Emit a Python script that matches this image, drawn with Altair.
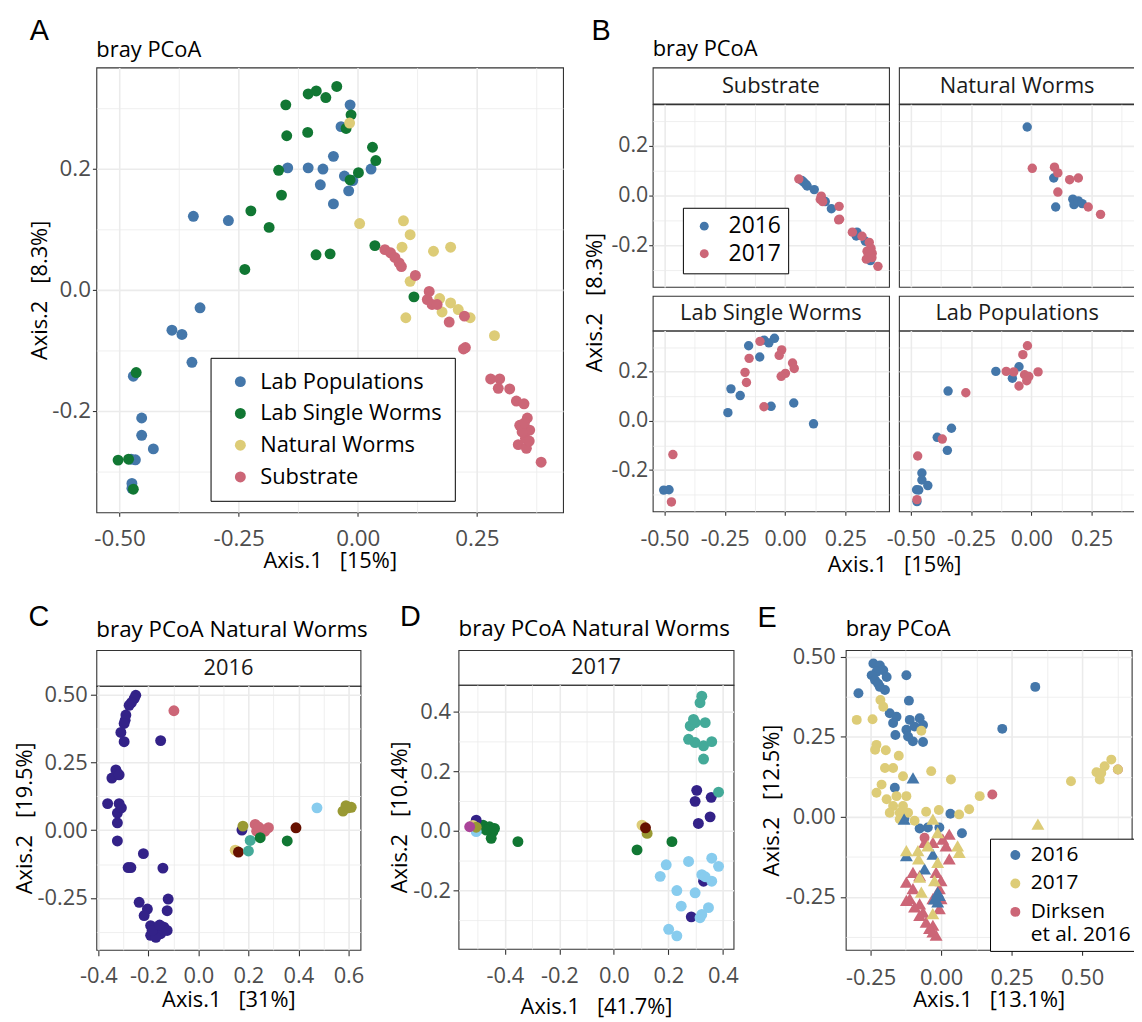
import altair as alt
import pandas as pd

FONT = "Open Sans"
LETTER_FONT = "Liberation Sans"
BORDER = "#333333"
GRID = "#EBEBEB"
TICK_TEXT = "#4D4D4D"
NB = "\u00a0"

# ---------------- Panels A and B: four sample groups, two years ----------------
GROUPS = ["Lab Populations", "Lab Single Worms", "Natural Worms", "Substrate"]
GROUP_COLORS = ["#4477AA", "#117733", "#DDCC77", "#CC6677"]
YEARS = ["2016", "2017"]
YEAR_COLORS = ["#4477AA", "#CC6677"]

lab_pop_x = [-0.345, -0.2715, -0.147, -0.104, -0.073, -0.0785, -0.331, -0.390, -0.369, -0.348,
             -0.471, -0.4535, -0.4535, -0.429, -0.4756, -0.4667, -0.474, -0.474, -0.016, -0.035,
             -0.051, -0.028, -0.0104, -0.019, -0.051, 0.028]
lab_pop_y = [0.121, 0.114, 0.201, 0.201, 0.199, 0.173, -0.030, -0.067, -0.074, -0.120,
             -0.143, -0.212, -0.2405, -0.263, -0.280, -0.281, -0.320, -0.328, 0.305, 0.269,
             0.220, 0.1874, 0.180, 0.163, 0.1415, 0.199]
lab_pop_year = [2016, 2017, 2016, 2017, 2017, 2016, 2016, 2016, 2017, 2016,
                2017, 2016, 2016, 2016, 2016, 2016, 2017, 2016, 2017, 2017,
                2016, 2017, 2017, 2017, 2017, 2017]

lab_single_x = [-0.151, -0.104, -0.087, -0.067, -0.044, -0.149, -0.105, -0.166, -0.160, -0.2243,
                -0.186, -0.237, -0.0875, -0.058, -0.465, -0.503, -0.481, -0.471, -0.014, -0.0244,
                0.031, 0.038, 0.0015, -0.016, 0.036, 0.118]
lab_single_y = [0.305, 0.323, 0.328, 0.317, 0.3354, 0.254, 0.2595, 0.197, 0.156, 0.130,
                0.1027, 0.0333, 0.0574, 0.059, -0.137, -0.2815, -0.280, -0.3295, 0.2885, 0.266,
                0.235, 0.213, 0.193, 0.181, 0.0726, -0.012]
lab_single_year = [2016, 2017, 2016, 2016, 2016, 2017, 2016, 2017, 2017, 2016,
                   2016, 2016, 2017, 2016, 2017, 2016, 2016, 2017, 2017, 2017,
                   2017, 2017, 2017, 2017, 2016, 2016]

natural_x = [-0.017, 0.004, 0.096, 0.11, 0.093, 0.159, 0.195, 0.11, 0.101, 0.172,
             0.177, 0.195, 0.211, 0.236, 0.287]
natural_y = [0.275, 0.109, 0.1136, 0.0906, 0.070, 0.0633, 0.070, 0.0136, -0.0465, -0.0148,
             -0.037, -0.022, -0.033, -0.0465, -0.076]
natural_year = [2016, 2017, 2017, 2017, 2016, 2017, 2017, 2017, 2016, 2016,
                2016, 2016, 2016, 2017, 2017]

substrate_x = [0.057, 0.069, 0.078, 0.087, 0.0917, 0.121, 0.150, 0.146, 0.156, 0.1667,
               0.192, 0.224, 0.222, 0.226, 0.279, 0.298, 0.295, 0.319, 0.333, 0.349,
               0.356, 0.340, 0.361, 0.352, 0.337, 0.354, 0.385, 0.345, 0.360, 0.350]
substrate_y = [0.066, 0.0607, 0.053, 0.044, 0.038, 0.0234, -0.003, -0.0164, -0.0246, -0.0246,
               -0.0536, -0.0438, -0.098, -0.0957, -0.1475, -0.1475, -0.163, -0.164, -0.184, -0.1885,
               -0.212, -0.224, -0.232, -0.246, -0.256, -0.262, -0.285, -0.235, -0.250, -0.220]
substrate_year = [2017, 2016, 2016, 2016, 2016, 2016, 2017, 2017, 2017, 2016,
                  2016, 2017, 2017, 2017, 2017, 2016, 2016, 2017, 2016, 2017,
                  2017, 2017, 2017, 2017, 2017, 2016, 2017, 2017, 2017, 2017]

# ---------------- Panels C and D: natural worms coloured by sample cluster ----------------
CLUSTERS = ["cluster 1", "cluster 2", "cluster 3", "cluster 4", "cluster 5",
            "cluster 6", "cluster 7", "cluster 8", "cluster 9"]
CLUSTER_COLORS = ["#332288", "#CC6677", "#999933", "#88CCEE", "#44AA99",
                  "#117733", "#661100", "#DDCC77", "#AA4499"]

c_x = [-0.2505, -0.257, -0.268, -0.277, -0.290, -0.293, -0.297, -0.310, -0.297, -0.151,
       -0.330, -0.324, -0.346, -0.317, -0.363, -0.317, -0.324, -0.308, -0.324, -0.324,
       -0.220, -0.270, -0.281, -0.142, -0.237, -0.121, -0.204, -0.217, -0.125, -0.191,
       -0.164, -0.138, -0.178, -0.151, -0.191, -0.125, -0.170, -0.185, -0.155, 0.174,
       -0.098, 0.227, 0.253, 0.280, 0.233, 0.266, 0.240,
       0.147,
       0.178, 0.598, 0.578, 0.611, 0.590,
       0.160, 0.390,
       0.207, 0.200,
       0.247, 0.355,
       0.474]
c_y = [0.497, 0.485, 0.470, 0.460, 0.424, 0.405, 0.393, 0.360, 0.326, 0.330,
       0.222, 0.210, 0.192, 0.204, 0.0977, 0.0977, 0.063, 0.082, 0.027, -0.040,
       -0.0867, -0.138, -0.138, -0.140, -0.266, -0.254, -0.291, -0.315, -0.297, -0.352,
       -0.364, -0.358, -0.376, -0.382, -0.388, -0.370, -0.395, -0.370, -0.350, 0.0,
       0.440, 0.021, 0.002, 0.009, -0.004, -0.004, 0.012,
       -0.074,
       0.0147, 0.082, 0.070, 0.084, 0.090,
       -0.081, 0.0085,
       -0.038, -0.077,
       -0.028, -0.040,
       0.082]
c_cluster = (["cluster 1"] * 40 + ["cluster 2"] * 7 + ["cluster 8"] + ["cluster 3"] * 5
             + ["cluster 7"] * 2 + ["cluster 5"] * 2 + ["cluster 6"] * 2 + ["cluster 4"])

d_x = [-0.505, -0.480, -0.456, -0.444, -0.450, -0.468, -0.493, -0.438, -0.352, 0.085, 0.213,
       -0.505, 0.304, 0.298, 0.357, 0.310, 0.353, 0.329, 0.284,
       -0.505, 0.192, 0.170, 0.274, 0.359, 0.384, 0.3225, 0.359, 0.231, 0.298, 0.247, 0.316,
       0.347, 0.201, 0.231, 0.3225, 0.335,
       0.3225, 0.316, 0.298, 0.335, 0.280, 0.298, 0.329, 0.359, 0.329, 0.384, 0.292, 0.274,
       -0.517, 0.103,
       -0.505, 0.122,
       0.116,
       -0.529]
d_y = [0.0245, 0.019, 0.0134, -0.0033, -0.0256, 0.0022, 0.0078, 0.0078, -0.0367, -0.0645, -0.0367,
       0.0356, 0.136, 0.099, 0.1124, 0.0245, 0.0467, -0.170, -0.290,
       -0.003, -0.1146, -0.1536, -0.1035, -0.0924, -0.120, -0.148, -0.170, -0.2015, -0.209, -0.254, -0.293,
       -0.259, -0.332, -0.354, -0.282, -0.155,
       0.453, 0.431, 0.364, 0.364, 0.353, 0.297, 0.286, 0.300, 0.2415, 0.130, 0.375, 0.308,
       0.018, 0.019,
       0.012, -0.009,
       0.010,
       0.0134]
d_cluster = (["cluster 6"] * 11 + ["cluster 1"] * 8 + ["cluster 4"] * 17 + ["cluster 5"] * 12
             + ["cluster 8"] * 2 + ["cluster 3"] * 2 + ["cluster 7"] + ["cluster 9"])

# ---------------- Panel E: 2016, 2017 and Dirksen et al. 2016 ----------------
SOURCES = ["2016", "2017", "Dirksen et al. 2016"]
SOURCE_COLORS = ["#4477AA", "#DDCC77", "#CC6677"]

e16_circ_x = [-0.240, -0.217, -0.2286, -0.246, -0.205, -0.193, -0.234, -0.217, -0.199, -0.223,
              -0.293, -0.123, -0.114, -0.182, -0.158, -0.170, -0.111, -0.076, -0.094, -0.064,
              -0.123, -0.162, -0.117, -0.100, -0.064, -0.164, 0.334, 0.217, 0.033, 0.074,
              -0.076, -0.047, -0.006, -0.130]
e16_circ_y = [0.479, 0.473, 0.453, 0.442, 0.458, 0.437, 0.427, 0.406, 0.396, 0.416,
              0.386, 0.4425, 0.363, 0.3236, 0.313, 0.293, 0.303, 0.308, 0.282, 0.287,
              0.272, 0.256, 0.251, 0.236, 0.234, 0.091, 0.406, 0.275, 0.010, -0.051,
              -0.036, -0.033, -0.033, -0.005]
e16_tri_x = [-0.0996, -0.006, -0.0234, -0.0586, -0.029, -0.123, -0.131, -0.012, -0.012]
e16_tri_y = [0.122, -0.245, -0.2554, -0.162, -0.116, -0.121, -0.007, -0.265, -0.235]

e17_circ_x = [-0.299, -0.243, -0.205, -0.215, -0.070, -0.229, -0.234, -0.196, -0.150, -0.199,
              -0.170, -0.135, -0.035, 0.035, -0.211, -0.229, -0.193, -0.170, -0.1465, -0.123,
              -0.182, -0.1465, -0.135, -0.158, -0.117, -0.094, -0.053, -0.008, 0.064, 0.0996,
              0.137, 0.4606, 0.551, 0.5626, 0.580, 0.6036, 0.568, 0.627]
e17_circ_y = [0.303, 0.305, 0.344, 0.365, 0.269, 0.225, 0.210, 0.208, 0.191, 0.153,
              0.153, 0.127, 0.143, 0.117, 0.101, 0.0755, 0.055, 0.034, 0.013, 0.065,
              0.013, -0.007, 0.034, 0.065, 0.013, -0.012, 0.0165, 0.0217, 0.008, 0.0238,
              0.065, 0.1117, 0.1396, 0.1168, 0.158, 0.179, 0.1375, 0.148]
e17_tri_x = [-0.029, -0.012, -0.123, -0.082, -0.047, -0.012, 0.0586, 0.0645, -0.080, -0.076,
             -0.0234, -0.070, -0.0293, 0.3434]
e17_tri_y = [-0.007, -0.0486, -0.105, -0.105, -0.090, -0.1416, -0.090, -0.1106, -0.131, -0.188,
             -0.1985, -0.2347, -0.302, -0.0227]

dirk_circ_x = [0.1817, 0.627, -0.0586]
dirk_circ_y = [0.0703, 0.148, -0.065]
dirk_tri_x = [-0.123, -0.0996, -0.111, -0.076, -0.029, -0.006, -0.029, -0.053, -0.0176, -0.029,
              -0.123, -0.094, -0.064, -0.006, 0.029, 0.0176, 0.006, 0.029, -0.0586, -0.029,
              -0.076, -0.041, -0.0996, -0.076, -0.0176, 0.0, 0.0]
dirk_tri_y = [-0.2037, -0.224, -0.255, -0.271, -0.255, -0.224, -0.338, -0.328, -0.369, -0.359,
              -0.2605, -0.281, -0.297, -0.2864, -0.131, -0.090, -0.069, -0.054, -0.0796, -0.0796,
              -0.307, -0.348, -0.1727, -0.183, -0.1727, -0.1985, -0.255]

# ---------------- tables ----------------
def frame(xs, ys, **cols):
    d = pd.DataFrame({"x": xs, "y": ys})
    for k, v in cols.items():
        d[k] = v
    return d

df_ab = pd.concat([
    frame(lab_pop_x, lab_pop_y, group="Lab Populations", year=[str(v) for v in lab_pop_year]),
    frame(lab_single_x, lab_single_y, group="Lab Single Worms", year=[str(v) for v in lab_single_year]),
    frame(natural_x, natural_y, group="Natural Worms", year=[str(v) for v in natural_year]),
    frame(substrate_x, substrate_y, group="Substrate", year=[str(v) for v in substrate_year]),
], ignore_index=True)
df_c = frame(c_x, c_y, cluster=c_cluster)
df_d = frame(d_x, d_y, cluster=d_cluster)
df_e_circ = pd.concat([
    frame(dirk_circ_x, dirk_circ_y, source="Dirksen et al. 2016"),
    frame(e16_circ_x, e16_circ_y, source="2016"),
    frame(e17_circ_x, e17_circ_y, source="2017"),
], ignore_index=True)
df_e_tri = pd.concat([
    frame(dirk_tri_x, dirk_tri_y, source="Dirksen et al. 2016"),
    frame(e16_tri_x, e16_tri_y, source="2016"),
    frame(e17_tri_x, e17_tri_y, source="2017"),
], ignore_index=True)

XD_AB = [-0.5486, 0.431]
YD_AB = [-0.3677, 0.3667]


# ---------------- helpers ----------------
def major_test(vals):
    return " || ".join(f"abs(datum.value - ({v})) < 0.000001" for v in vals)


def axis(major, minor, fmt, show=True, title=None, font_size=22, tick=4, lab_pad=3,
         title_pad=0, extra=None):
    test = major_test(major)
    kw = dict(values=sorted(major + minor), grid=True, gridColor=GRID,
              gridWidth={"condition": {"test": test, "value": 1.6}, "value": 0.8},
              domain=False, labelOverlap=False, labelFlush=False,
              labelFont=FONT, labelFontSize=font_size, labelColor=TICK_TEXT,
              tickColor=BORDER, tickWidth=1.1, tickSize=tick, labelPadding=lab_pad,
              titleFont=FONT, titleFontSize=22, titleFontWeight="normal", titleColor="black",
              titlePadding=title_pad, title=title)
    if show:
        kw["labelExpr"] = f"({test}) ? replace(format(datum.value, '{fmt}'), '\u2212', '-') : ''"
        kw["tickOpacity"] = {"condition": {"test": test, "value": 1}, "value": 0}
    else:
        kw["labels"] = False
        kw["ticks"] = False
    if extra:
        kw.update(extra)
    return alt.Axis(**kw)


def points(df, xdom, ydom, xax, yax, color, size, shape="circle"):
    return alt.Chart(df).mark_point(filled=True, size=size, opacity=1, shape=shape,
                                    strokeWidth=0).encode(
        x=alt.X("x:Q", scale=alt.Scale(domain=xdom, nice=False, zero=False), axis=xax),
        y=alt.Y("y:Q", scale=alt.Scale(domain=ydom, nice=False, zero=False), axis=yax),
        color=color,
    )


def ptitle(text, offset, size=22):
    return alt.Title(text, anchor="start", frame="group", font=FONT, fontSize=size,
                     fontWeight="normal", color="black", baseline="alphabetic", offset=offset)


def ltitle(letter, dx, offset):
    return alt.Title(letter, anchor="start", frame="group", font=LETTER_FONT, fontSize=29,
                     fontWeight="normal", color="black", baseline="alphabetic",
                     offset=offset, dx=dx)


def strip(label, w, h):
    d = pd.DataFrame({"label": [label]})
    return alt.Chart(d).mark_text(font=FONT, fontSize=22, color="#1A1A1A").encode(
        x=alt.X("label:N", axis=None),
        y=alt.Y("label:N", axis=None),
        text="label:N",
    ).properties(width=w, height=h)


def spacer(w, h):
    d = pd.DataFrame({"v": [0]})
    return alt.Chart(d).mark_point(opacity=0).encode(
        x=alt.X("v:Q", axis=None), y=alt.Y("v:Q", axis=None)
    ).properties(width=w, height=h, view=alt.ViewBackground(stroke="transparent"))


def ind(c):
    return c.resolve_scale(color="independent").resolve_legend(color="independent")


# ---------------- Panel A ----------------
AX_MAJ = [-0.5, -0.25, 0.0, 0.25]
AX_MIN = [-0.375, -0.125, 0.125, 0.375]
AY_MAJ = [-0.2, 0.0, 0.2]
AY_MIN = [-0.3, -0.1, 0.1, 0.3]

legA = alt.Legend(title=None, orient="none", legendX=115, legendY=292.4, fillColor="white",
                  strokeColor="black", padding=13, symbolOffset=6, labelOffset=9, rowPadding=10,
                  labelFont=FONT, labelFontSize=22, labelColor="black", labelLimit=400,
                  symbolType="circle", symbolSize=121, symbolStrokeWidth=0)
chartA = points(
    df_ab, XD_AB, YD_AB,
    axis(AX_MAJ, AX_MIN, ".2f", title=f"Axis.1{NB*3}[15%]", font_size=22.5, tick=4,
         lab_pad=11.8, title_pad=0),
    axis(AY_MAJ, AY_MIN, ".1f", title=f"Axis.2{NB*3}[8.3%]", font_size=22.5, tick=4,
         lab_pad=2, title_pad=0),
    alt.Color("group:N", scale=alt.Scale(domain=GROUPS, range=GROUP_COLORS), legend=legA),
    121,
).properties(width=470, height=448, title=ptitle("bray PCoA", -11.25))
A_wrap = ind(alt.vconcat(chartA, title=ltitle("A", -67, -30.7)))

# ---------------- Panel B ----------------
BW = 238
df_b = df_ab.sort_values("year", kind="stable")
legB = alt.Legend(title=None, orient="none", legendX=30.4, legendY=104.3, fillColor="white",
                  strokeColor="black", padding=7, symbolOffset=3, labelOffset=13, rowPadding=3.7,
                  labelFont=FONT, labelFontSize=23, labelColor="black", labelLimit=300,
                  symbolType="circle", symbolSize=81, symbolStrokeWidth=0)


def b_plot(group, xshow, yshow, h, xtitle=None, ytitle=None, legend=None, xextra=None,
           yextra=None):
    col = alt.Color("year:N", scale=alt.Scale(domain=YEARS, range=YEAR_COLORS),
                    legend=legend)
    return points(
        df_b[df_b["group"] == group], XD_AB, YD_AB,
        axis(AX_MAJ, AX_MIN, ".2f", show=xshow, title=xtitle, font_size=21.5, tick=4,
             lab_pad=13.2, title_pad=4.6, extra=xextra),
        axis(AY_MAJ, AY_MIN, ".1f", show=yshow, title=ytitle, font_size=21.5, tick=4,
             lab_pad=1, title_pad=4, extra=yextra),
        col, 90,
    ).properties(width=BW, height=h)


b_sub = b_plot("Substrate", False, True, 184, ytitle=f"Axis.2{NB*3}[8.3%]", legend=legB,
               yextra={"titleY": 199.3})
b_nat = b_plot("Natural Worms", False, False, 184)
b_lsw = b_plot("Lab Single Worms", True, True, 182, xtitle=f"Axis.1{NB*3}[15%]",
               xextra={"titleX": 243})
b_lp = b_plot("Lab Populations", True, False, 182)

B_grid = ind(alt.concat(
    strip("Substrate", BW, 36.4), strip("Natural Worms", BW, 36.4),
    b_sub, b_nat,
    spacer(BW, 9), spacer(BW, 9),
    strip("Lab Single Worms", BW, 35), strip("Lab Populations", BW, 35),
    b_lsw, b_lp,
    columns=2, spacing={"row": 0, "column": 10}, bounds="flush", align="each",
    title=ptitle("bray PCoA", -11.25),
))
B_wrap = ind(alt.vconcat(B_grid, title=ltitle("B", -61.6, -30.7)))

# ---------------- Panel C ----------------
colC = alt.Color("cluster:N", scale=alt.Scale(domain=CLUSTERS, range=CLUSTER_COLORS),
                 legend=None)
chartC = points(
    df_c, [-0.408, 0.648], [-0.4416, 0.532],
    axis([-0.4, -0.2, 0.0, 0.2, 0.4, 0.6], [-0.3, -0.1, 0.1, 0.3, 0.5], ".1f",
         title=f"Axis.1{NB*3}[31%]", tick=6, lab_pad=9.7, title_pad=3.3),
    axis([-0.25, 0.0, 0.25, 0.5], [-0.375, -0.125, 0.125, 0.375], ".2f",
         title=f"Axis.2{NB*3}[19.5%]", tick=6, lab_pad=3.3, title_pad=0),
    colC, 121,
).properties(width=266, height=266)
C_cell = alt.vconcat(strip("2016", 266, 36), chartC, spacing=0, bounds="flush",
                     title=ptitle("bray PCoA Natural Worms", -9.75, 22.5))
C_wrap = ind(alt.vconcat(ind(C_cell), title=ltitle("C", -68.4, -36)))

# ---------------- Panel D ----------------
chartD = points(
    df_d, [-0.570, 0.439], [-0.398, 0.4915],
    axis([-0.4, -0.2, 0.0, 0.2, 0.4], [-0.5, -0.3, -0.1, 0.1, 0.3], ".1f",
         title=f"Axis.1{NB*3}[41.7%]", tick=5.5, lab_pad=11.2, title_pad=10),
    axis([-0.2, 0.0, 0.2, 0.4], [-0.3, -0.1, 0.1, 0.3], ".1f",
         title=f"Axis.2{NB*3}[10.4%]", tick=5.5, lab_pad=2.5, title_pad=1),
    colC, 121,
).properties(width=277, height=266)
D_cell = alt.vconcat(strip("2017", 277, 35), chartD, spacing=0, bounds="flush",
                     title=ptitle("bray PCoA Natural Worms", -8.45, 22.5))
D_wrap = ind(alt.vconcat(ind(D_cell), title=ltitle("D", -59, -37.3)))

# ---------------- Panel E ----------------
legE = alt.Legend(title=None, orient="none", legendX=145.3, legendY=190, fillColor="white",
                  strokeColor="black", padding=6, symbolOffset=9, labelOffset=5, rowPadding=6.6,
                  labelFont=FONT, labelFontSize=21, labelColor="black", labelLimit=300,
                  symbolType="circle", symbolSize=100, symbolStrokeWidth=0,
                  labelExpr="datum.label == 'Dirksen et al. 2016' ? ['Dirksen', 'et al. 2016'] : datum.label")
colE = alt.Color("source:N", scale=alt.Scale(domain=SOURCES, range=SOURCE_COLORS), legend=legE)
xE = axis([-0.25, 0.0, 0.25, 0.5], [-0.125, 0.125, 0.375, 0.625], ".2f",
          title=f"Axis.1{NB*3}[13.1%]", tick=5.5, lab_pad=11.9, title_pad=1.3)
yE = axis([-0.25, 0.0, 0.25, 0.5], [-0.375, -0.125, 0.125, 0.375], ".2f",
          title=f"Axis.2{NB*3}[12.5%]", tick=5.5, lab_pad=5, title_pad=2)
XD_E = [-0.338, 0.676]
YD_E = [-0.415, 0.521]
chartE = alt.layer(
    points(df_e_circ, XD_E, YD_E, xE, yE, colE, 100, "circle"),
    points(df_e_tri, XD_E, YD_E, xE, yE, colE, 170, "triangle-up"),
).properties(width=288, height=302, title=ptitle("bray PCoA", -11.62))
E_wrap = ind(alt.vconcat(chartE, title=ltitle("E", -89, -39)))

# ---------------- layout (flush: panel origins placed by the spacings) ----------------
row1 = ind(alt.hconcat(A_wrap, B_wrap, spacing=560.3, bounds="flush"))
de = ind(alt.hconcat(D_wrap, E_wrap, spacing=390, bounds="flush"))
row2 = ind(alt.hconcat(C_wrap, de, spacing=364.7, bounds="flush"))
chart = ind(alt.vconcat(row1, row2, spacing=586.7, bounds="flush")).properties(
    autosize=alt.AutoSizeParams(type="none"),
    padding={"left": 89, "top": 56.3, "right": 1045, "bottom": 957.7},
).configure(font=FONT).configure_view(stroke=BORDER, strokeWidth=1.1)

chart.save("out.html", embed_options={"renderer": "svg", "actions": False})
